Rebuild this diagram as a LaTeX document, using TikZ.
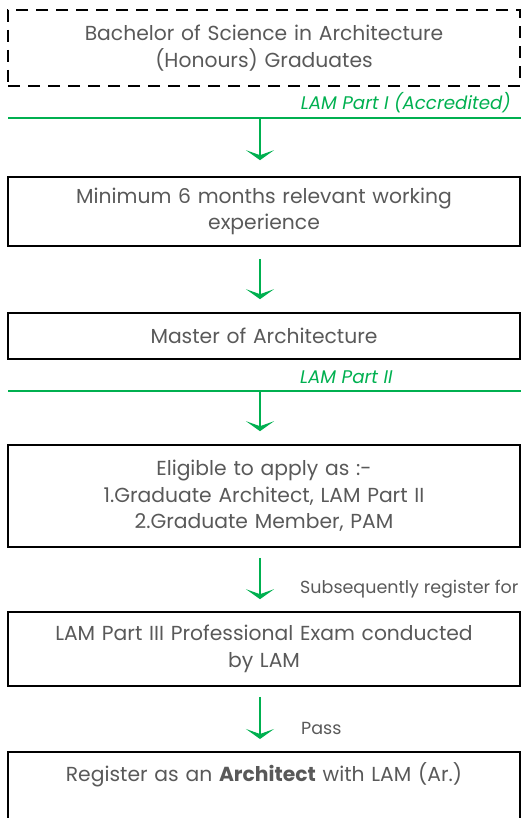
\documentclass[tikz,border=0pt]{standalone}
\usepackage{fontspec}
\setmainfont{Poppins}
\usepackage{xcolor}
\usetikzlibrary{arrows.meta,positioning,calc}
\definecolor{lamgreen}{HTML}{00B050}
\definecolor{txtgrey}{HTML}{595959}

\tikzset{
    stage/.style={draw=black, line width=1.6pt, rectangle, minimum width=512pt,
        text width=500pt, align=center, text=txtgrey, font=\fontsize{20.3}{26.5}\selectfont,
        inner sep=0pt},
    flow/.style={draw=lamgreen, line width=1.8pt,
        -{Stealth[width=28pt,length=10pt,inset=5pt]}},
    partline/.style={draw=lamgreen, line width=1.8pt},
    partlabel/.style={text=lamgreen, font=\fontsize{18.3}{20}\selectfont\itshape, inner sep=0pt},
    steplabel/.style={text=txtgrey, font=\fontsize{17.5}{20}\selectfont, inner sep=0pt}
}

\begin{document}
\begin{tikzpicture}[x=1pt, y=-1pt]
                    \useasboundingbox (0,0) rectangle (521,818);
                    \clip (0,0) rectangle (521,818);

                    \node[stage, dash pattern=on 12pt off 8pt, line width=2pt, minimum height=76pt] (bsc) at (264, 48)
                        {Bachelor of Science in Architecture\\(Honours) Graduates};
                    \node[stage, minimum height=69pt] (work) at (264, 211.5)
                        {Minimum 6 months relevant working\\experience};
                    \node[stage, minimum height=46pt] (march) at (264, 336)
                        {Master of Architecture};
                    \node[stage, minimum height=102pt] (elig) at (264, 496)
                        {Eligible to apply as :-\\1.Graduate Architect, LAM Part II\\2.Graduate Member, PAM};
                    \node[stage, minimum height=74pt] (exam) at (264, 649)
                        {LAM Part III Professional Exam conducted\\by LAM};
                    \node[stage, minimum height=110pt, anchor=north] (reg) at (264, 751)
                        {Register as an \textbf{Architect} with LAM (Ar.)\\[44pt]~};

                    \coordinate (p1w) at (8, 118);
                    \coordinate (p1e) at (521, 118);
                    \coordinate (p2w) at (8, 391);
                    \coordinate (p2e) at (521, 391);
                    \coordinate (g1) at (260, 118);
                    \coordinate (g2) at (260, 391);

                    \node[partlabel, anchor=east] (part1) at (511, 103) {LAM Part I (Accredited)};
                    \node[partlabel, anchor=west] (part2) at (300, 377) {LAM Part II};
                    \node[steplabel, anchor=west] (subs) at (300, 589) {Subsequently register for};
                    \node[steplabel, anchor=west] (pass) at (301, 728) {Pass};

                    \draw[partline] (p1w) -- (p1e);
                    \draw[partline] (p2w) -- (p2e);

                    \draw[flow, shorten >=16pt] (g1) -- (g1 |- work.north);
                    \draw[flow, shorten <=12pt, shorten >=13pt] (g1 |- work.south) -- (g1 |- march.north);
                    \draw[flow, shorten >=13pt] (g2) -- (g2 |- elig.north);
                    \draw[flow, shorten <=10pt, shorten >=12pt] (g2 |- elig.south) -- (g2 |- exam.north);
                    \draw[flow, shorten <=10pt, shorten >=12pt] (g2 |- exam.south) -- (g2 |- reg.north);
                \end{tikzpicture}
\end{document}
